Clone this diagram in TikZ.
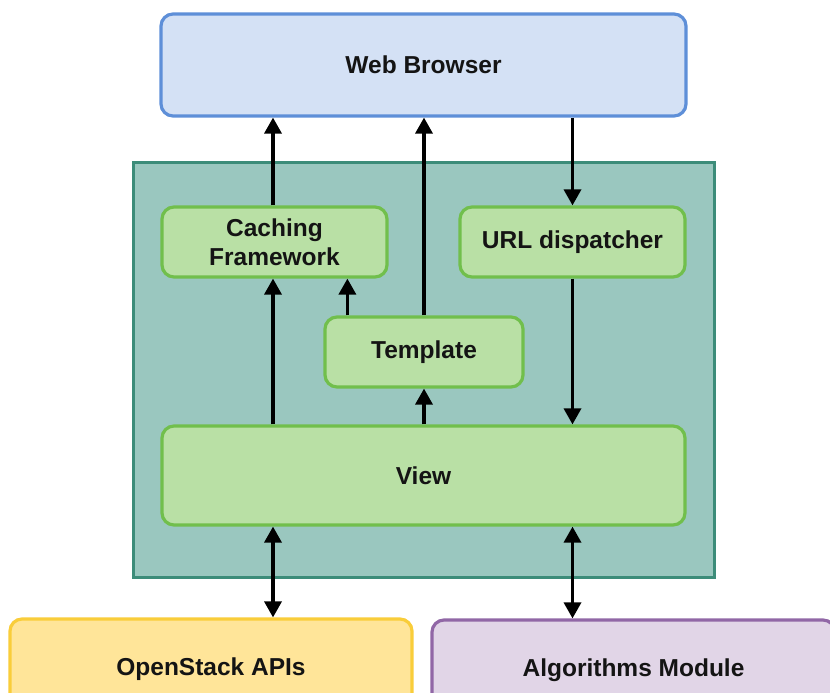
\documentclass[tikz,border=0pt]{standalone}
\usepackage{fontspec}
\setmainfont{Liberation Sans}
\usetikzlibrary{arrows.meta}
\definecolor{webfill}{HTML}{D4E1F5}
\definecolor{webline}{HTML}{5E8FD8}
\definecolor{appfill}{HTML}{9AC7BF}
\definecolor{appline}{HTML}{3C8C79}
\definecolor{compfill}{HTML}{B9E0A5}
\definecolor{compline}{HTML}{71BF4C}
\definecolor{apifill}{HTML}{FFE599}
\definecolor{apiline}{HTML}{F9CD3A}
\definecolor{algfill}{HTML}{E1D5E7}
\definecolor{algline}{HTML}{9167A6}
\begin{document}
\begin{tikzpicture}[x=1pt,y=-1pt,
  box/.style={rectangle, rounded corners=12pt, line width=3.2pt, inner sep=0pt,
    align=center, text=black!92,
    font=\fontsize{24.5}{28.5}\selectfont\bfseries},
  comp/.style={box, draw=compline, fill=compfill},
  arr/.style={line width=3.4pt, -{Triangle[length=16pt,width=17pt]}},
  biarr/.style={line width=3.4pt, {Triangle[length=16pt,width=17pt]}-{Triangle[length=16pt,width=17pt]}}]
\useasboundingbox (0,0) rectangle (830,693);
\clip (0,0) rectangle (830,693);

% application container
\node[rectangle, draw=appline, fill=appfill, line width=3pt,
  minimum width=581, minimum height=415, inner sep=0pt] (app) at (423.5,369.5) {};

% external components
\node[box, draw=webline, fill=webfill, minimum width=525, minimum height=102] (web) at (423.5,65) {Web Browser};
\node[box, draw=apiline, fill=apifill, minimum width=402, minimum height=100] (api) at (211,669) {OpenStack APIs};
\node[box, draw=algline, fill=algfill, minimum width=403, minimum height=100] (alg) at (633.5,670) {Algorithms Module};

% internal components
\node[comp, minimum width=225, minimum height=70] (cache) at (274.5,242) {Caching\\Framework};
\node[comp, minimum width=225, minimum height=70] (url) at (572.5,242) {URL dispatcher};
\node[comp, minimum width=198, minimum height=70] (tmpl) at (424,352) {Template};
\node[comp, minimum width=523, minimum height=99] (view) at (423.5,475.5) {View};

% request / response flow
\coordinate (tc) at ([xshift=24pt]tmpl.north west);
\draw[arr] (cache.north -| 273,0) -- (web.south -| 273,0);
\draw[arr] (tmpl.north) -- (tmpl.north |- web.south);
\draw[arr] (web.south -| url.north) -- (url.north);
\draw[arr] (view.north -| 273,0) -- (cache.south -| 273,0);
\draw[arr] (tc) -- (tc |- cache.south);
\draw[arr] (view.north -| tmpl.south) -- (tmpl.south);
\draw[arr] (url.south) -- (url.south |- view.north);
\draw[biarr] (view.south -| 273,0) -- (api.north -| 273,0);
\draw[biarr] (view.south -| url.south) -- (alg.north -| url.south);
\end{tikzpicture}
\end{document}
